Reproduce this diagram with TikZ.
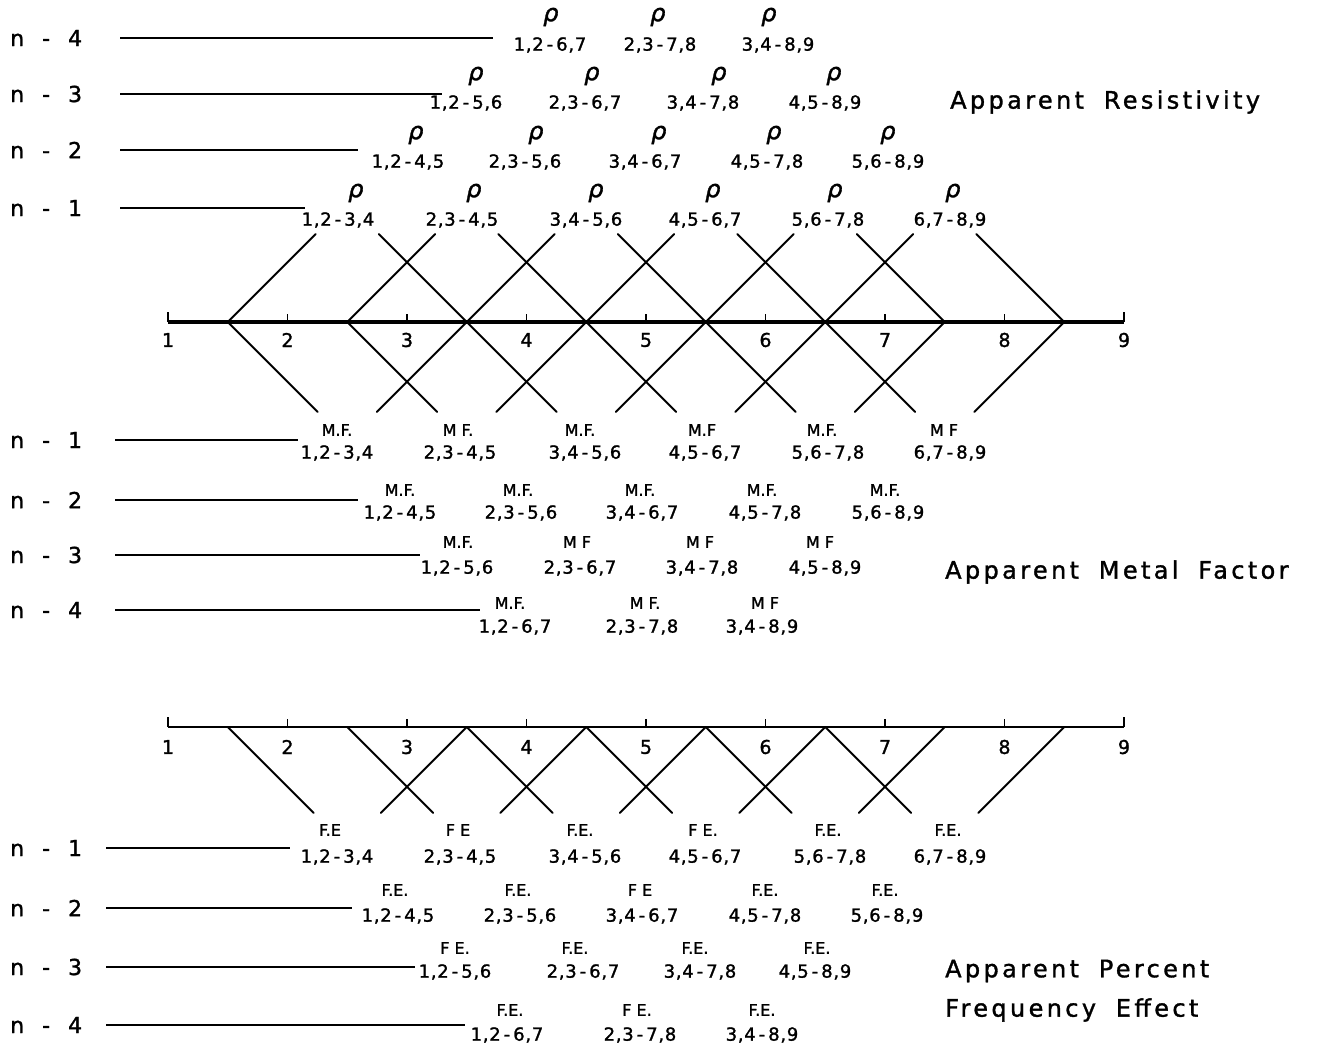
\documentclass[tikz,border=0pt]{standalone}
\usepackage{fontspec}
\setmainfont{DejaVu Sans}[FakeBold=1.4]
\newfontfamily\pairfont[LetterSpace=4,FakeBold=1.4]{DejaVu Sans}
\newfontfamily\titlefont[LetterSpace=14,WordSpace=1.8,FakeBold=1.4]{DejaVu Sans}
\newfontfamily\rhofont[FakeSlant=0.2,FakeBold=1.4]{DejaVu Sans}

% electrode pair label: current dipole a,a+1 and potential dipole at separation n
\newcommand\dpair[2]{\the\numexpr#1\relax,\the\numexpr#1+1\relax\,-\,\the\numexpr#1+#2+1\relax,\the\numexpr#1+#2+2\relax}

\tikzset{
  axisline/.style={line width=3.2pt},
  endtick/.style={line width=2.2pt},
  smalltick/.style={line width=1.2pt},
  vline/.style={line width=1.8pt, line cap=round},
  guide/.style={line width=2.8pt},
  rowtag/.style={anchor=west, inner sep=0pt, font=\fontsize{22}{22}\selectfont},
  pair/.style={inner sep=0pt, font=\pairfont\fontsize{18}{18}\selectfont},
  head/.style={inner sep=0pt, font=\fontsize{16}{16}\selectfont},
  rhohead/.style={inner sep=0pt, font=\rhofont\fontsize{24}{24}\selectfont},
  elec/.style={inner sep=0pt, font=\fontsize{19}{19}\selectfont},
  title/.style={anchor=west, inner sep=0pt, font=\titlefont\fontsize{24}{24}\selectfont},
}

\begin{document}
\begin{tikzpicture}[x=1pt,y=-1pt]
\fill[white] (0,0) rectangle (1317,1054);
\useasboundingbox (0,0) rectangle (1317,1054);

% ---------------- apparent resistivity / metal factor line ----------------
\foreach \k in {1,...,9} {
  \coordinate (ra\k) at ({168+119.5*(\k-1)},322);
  \node[elec] (rn\k) at ({168+119.5*(\k-1)},340) {\k};
}
\draw[axisline] (ra1) -- (ra9);
\draw[endtick] (ra1) -- ++(0,-10);
\draw[endtick] (ra9) -- ++(0,-10);
\foreach \k in {2,...,8} \draw[smalltick] (ra\k) -- ++(0,-8);

% dipole midpoints and 45 degree construction lines
\foreach \j in {1,...,8} {
  \coordinate (rm\j) at ({227.75+119.5*(\j-1)},322);
  \coordinate (rur\j) at ({315.75+119.5*(\j-1)},234);
  \coordinate (rul\j) at ({139.75+119.5*(\j-1)},234);
  \coordinate (rdr\j) at ({317.75+119.5*(\j-1)},412);
  \coordinate (rdl\j) at ({137.75+119.5*(\j-1)},412);
}
\foreach \j in {1,...,6} {
  \draw[vline] (rm\j) -- (rur\j);
  \draw[vline] (rm\j) -- (rdr\j);
}
\foreach \j in {3,...,8} {
  \draw[vline] (rm\j) -- (rul\j);
  \draw[vline] (rm\j) -- (rdl\j);
}

% resistivity rows
\foreach \n/\y/\xe in {4/38/493, 3/94/442, 2/150/358, 1/208/305} {
  \node[rowtag] (rtag\n) at (10,\y) {n\hspace{18pt}-\hspace{18pt}\n};
  \coordinate (rgs\n) at (120,\y);
  \coordinate (rge\n) at (\xe,\y);
  \draw[guide] (rgs\n) -- (rge\n);
}
\foreach \hx/\nx [count=\a] in {355/338, 473/462, 595/586, 712/705, 834/828, 952/950} {
  \node[rhohead] (rh1x\a) at (\hx,193) {ρ};
  \node[pair] (rp1x\a) at (\nx,220) {\dpair{\a}{1}};
}
\foreach \hx/\nx [count=\a] in {415/408, 535/525, 658/645, 773/767, 887/888} {
  \node[rhohead] (rh2x\a) at (\hx,135) {ρ};
  \node[pair] (rp2x\a) at (\nx,162) {\dpair{\a}{2}};
}
\foreach \hx/\nx [count=\a] in {475/466, 591/585, 718/703, 833/825} {
  \node[rhohead] (rh3x\a) at (\hx,76) {ρ};
  \node[pair] (rp3x\a) at (\nx,103) {\dpair{\a}{3}};
}
\foreach \hx/\nx [count=\a] in {550/550, 657/660, 768/778} {
  \node[rhohead] (rh4x\a) at (\hx,17) {ρ};
  \node[pair] (rp4x\a) at (\nx,45) {\dpair{\a}{4}};
}
\node[title] (rtitle) at (950,102) {Apparent Resistivity};

% metal factor rows
\foreach \n/\y/\xe in {1/440/298, 2/500/358, 3/555/420, 4/610/480} {
  \node[rowtag] (mtag\n) at (10,\y) {n\hspace{18pt}-\hspace{18pt}\n};
  \coordinate (mgs\n) at (115,\y);
  \coordinate (mge\n) at (\xe,\y);
  \draw[guide] (mgs\n) -- (mge\n);
}
\foreach \hx/\nx/\lab [count=\a] in {337/337/{M.F.}, 458/460/{M F.}, 580/585/{M.F.}, 702/705/{M.F}, 822/828/{M.F.}, 944/950/{M F}} {
  \node[head] (mh1x\a) at (\hx,430) {\lab};
  \node[pair] (mp1x\a) at (\nx,453) {\dpair{\a}{1}};
}
\foreach \hx/\nx/\lab [count=\a] in {400/400/{M.F.}, 518/521/{M.F.}, 640/642/{M.F.}, 762/765/{M.F.}, 885/888/{M.F.}} {
  \node[head] (mh2x\a) at (\hx,490) {\lab};
  \node[pair] (mp2x\a) at (\nx,513) {\dpair{\a}{2}};
}
\foreach \hx/\nx/\lab [count=\a] in {458/457/{M.F.}, 577/580/{M F}, 700/702/{M F}, 820/825/{M F}} {
  \node[head] (mh3x\a) at (\hx,542) {\lab};
  \node[pair] (mp3x\a) at (\nx,568) {\dpair{\a}{3}};
}
\foreach \hx/\nx/\lab [count=\a] in {510/515/{M.F.}, 645/642/{M F.}, 765/762/{M F}} {
  \node[head] (mh4x\a) at (\hx,603) {\lab};
  \node[pair] (mp4x\a) at (\nx,627) {\dpair{\a}{4}};
}
\node[title] (mtitle) at (945,572) {Apparent Metal Factor};

% ---------------- frequency effect line ----------------
\foreach \k in {1,...,9} {
  \coordinate (fa\k) at ({168+119.5*(\k-1)},727);
  \node[elec] (fn\k) at ({168+119.5*(\k-1)},747) {\k};
}
\draw[axisline, line width=2.8pt] (fa1) -- (fa9);
\draw[endtick] (fa1) -- ++(0,-10);
\draw[endtick] (fa9) -- ++(0,-10);
\foreach \k in {2,...,8} \draw[smalltick] (fa\k) -- ++(0,-8);

\foreach \j in {1,...,8} {
  \coordinate (fm\j) at ({227.75+119.5*(\j-1)},727);
  \coordinate (fdr\j) at ({313.75+119.5*(\j-1)},813);
  \coordinate (fdl\j) at ({141.75+119.5*(\j-1)},813);
}
\foreach \j in {1,...,6} \draw[vline] (fm\j) -- (fdr\j);
\foreach \j in {3,...,8} \draw[vline] (fm\j) -- (fdl\j);

\foreach \n/\y/\xe in {1/848/290, 2/908/352, 3/967/415, 4/1025/465} {
  \node[rowtag] (ftag\n) at (10,\y) {n\hspace{18pt}-\hspace{18pt}\n};
  \coordinate (fgs\n) at (106,\y);
  \coordinate (fge\n) at (\xe,\y);
  \draw[guide] (fgs\n) -- (fge\n);
}
\foreach \hx/\nx/\lab [count=\a] in {330/337/{F.E}, 458/460/{F E}, 580/585/{F.E.}, 703/705/{F E.}, 828/830/{F.E.}, 948/950/{F.E.}} {
  \node[head] (fh1x\a) at (\hx,830) {\lab};
  \node[pair] (fp1x\a) at (\nx,857) {\dpair{\a}{1}};
}
\foreach \hx/\nx/\lab [count=\a] in {395/398/{F.E.}, 518/520/{F.E.}, 640/642/{F E}, 765/765/{F.E.}, 885/887/{F.E.}} {
  \node[head] (fh2x\a) at (\hx,890) {\lab};
  \node[pair] (fp2x\a) at (\nx,916) {\dpair{\a}{2}};
}
\foreach \hx/\nx/\lab [count=\a] in {455/455/{F E.}, 575/583/{F.E.}, 695/700/{F.E.}, 817/815/{F.E.}} {
  \node[head] (fh3x\a) at (\hx,948) {\lab};
  \node[pair] (fp3x\a) at (\nx,972) {\dpair{\a}{3}};
}
\foreach \hx/\nx/\lab [count=\a] in {510/507/{F.E.}, 637/640/{F E.}, 762/762/{F.E.}} {
  \node[head] (fh4x\a) at (\hx,1010) {\lab};
  \node[pair] (fp4x\a) at (\nx,1035) {\dpair{\a}{4}};
}
\node[title] (ftitle1) at (945,971) {Apparent Percent};
\node[title] (ftitle2) at (945,1010) {Frequency Effect};
\end{tikzpicture}
\end{document}
